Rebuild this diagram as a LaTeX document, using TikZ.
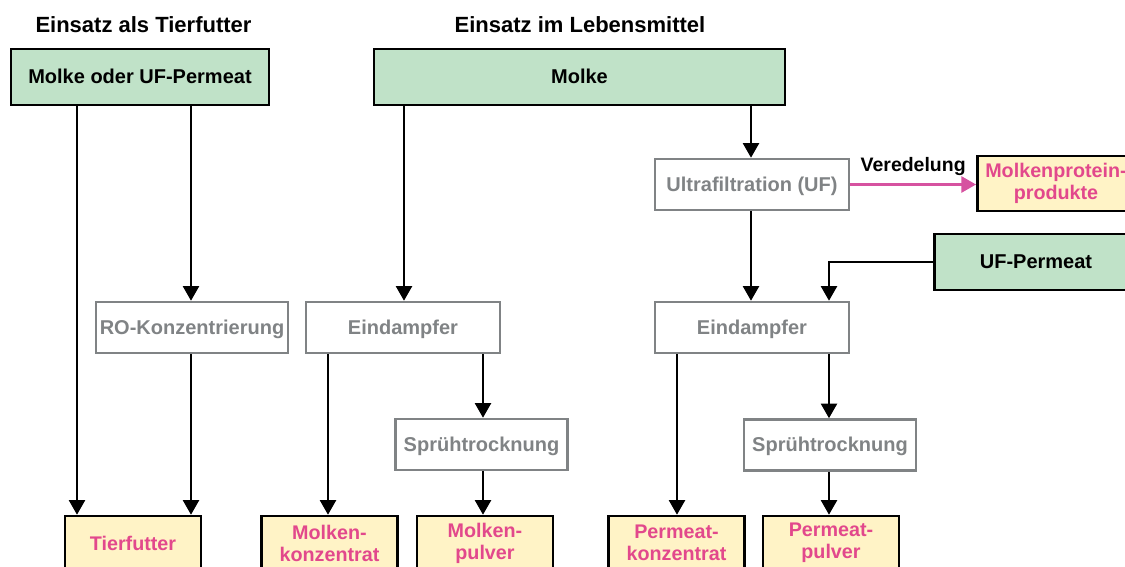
\documentclass[tikz,border=0pt]{standalone}
\usepackage{fontspec}
\setmainfont{Liberation Sans}
\usepackage{tikz}
\usetikzlibrary{arrows.meta}
\usetikzlibrary{calc}

\definecolor{boxgreen}{RGB}{192,226,200}
\definecolor{boxyellow}{RGB}{255,243,198}
\definecolor{txtpink}{RGB}{226,72,140}
\definecolor{arrpink}{RGB}{214,82,160}
\definecolor{stepgray}{RGB}{128,131,133}

\tikzset{
  basebox/.style={draw, rectangle, line width=1.9pt, align=center, inner sep=0pt,
    font=\bfseries\fontsize{15}{17}\selectfont},
  src/.style={basebox, draw=black, fill=boxgreen, text height=13.4pt, text depth=3pt},
  proc/.style={basebox, draw=stepgray, text=stepgray, fill=white, minimum height=38.25pt,
    text height=13pt, text depth=3pt},
  prod/.style={basebox, draw=black, fill=boxyellow, text=txtpink, minimum width=102pt, minimum height=40.5pt,
    font=\bfseries\fontsize{14.8}{16.5}\selectfont},
  arr/.style={line width=1.9pt, -{Triangle[width=12pt,length=11pt]}},
  head/.style={anchor=base, font=\bfseries\fontsize{16.5}{20}\selectfont}
}

\begin{document}
\begin{tikzpicture}[x=0.75pt,y=0.75pt,yscale=-1,xscale=1]
  \useasboundingbox (0,0) rectangle (1125,567); %page is 1125 x 567

  % Text Node
  \node[head] (htier) at (143.5,33) {Einsatz als Tierfutter};
  % Text Node
  \node[head] (hlebm) at (580,33) {Einsatz im Lebensmittel};

  % Source boxes
  \node[src, minimum width=193.5pt, minimum height=42pt] (mup) at (140,77) {Molke oder UF-Permeat};
  \node[src, minimum width=308.25pt, minimum height=42pt] (molke) at (579.5,77) {Molke};
  \node[src, minimum width=152pt, minimum height=42pt] (ufp) at (1036,262) {UF-Permeat};

  % Process boxes
  \node[proc, minimum width=145.5pt] (uf) at (752,184.5) {Ultrafiltration (UF)};
  \node[proc, minimum width=144pt] (ro) at (192,327.5) {RO-Konzentrierung};
  \node[proc, minimum width=145.5pt] (eda) at (403,327.5) {Eindampfer};
  \node[proc, minimum width=145.5pt] (edb) at (752,327.5) {Eindampfer};
  \node[proc, minimum width=129pt] (spa) at (481.5,444.5) {Sprühtrocknung};
  \node[proc, minimum width=129pt] (spb) at (830,445) {Sprühtrocknung};

  % Product boxes
  \node[prod, minimum width=118pt, minimum height=41.25pt] (prot) at (1056,183.5) {Molkenprotein-\\produkte};
  \node[prod] (tf) at (133,543) {Tierfutter};
  \node[prod] (mk) at (329.5,543) {Molken-\\konzentrat};
  \node[prod] (mp) at (485,543) {Molken-\\pulver};
  \node[prod] (pk) at (676.5,543) {Permeat-\\konzentrat};
  \node[prod] (pp) at (831,543) {Permeat-\\pulver};

  %Straight Lines
  \draw[arr] (mup.south -| 77,0) -- (tf.north -| 77,0);
  \draw[arr] (mup.south -| 191,0) -- (ro.north -| 191,0);
  \draw[arr] (ro.south -| 191,0) -- (tf.north -| 191,0);
  \draw[arr] (molke.south -| 404,0) -- (eda.north -| 404,0);
  \draw[arr] (molke.south -| 751,0) -- (uf.north -| 751,0);
  \draw[arr] (uf.south -| 751,0) -- (edb.north -| 751,0);
  \draw[arr] (ufp.west) -| (edb.north -| 829,0);
  \draw[arr] (eda.south -| 328,0) -- (mk.north -| 328,0);
  \draw[arr] (eda.south -| 483,0) -- (spa.north -| 483,0);
  \draw[arr] (spa.south -| 483,0) -- (mp.north -| 483,0);
  \draw[arr] (edb.south -| 677,0) -- (pk.north -| 677,0);
  \draw[arr] (edb.south -| 829,0) -- (spb.north -| 829,0);
  \draw[arr] (spb.south -| 829,0) -- (pp.north -| 829,0);
  %Veredelung
  \draw[arr, color=arrpink] (uf.east) -- (uf.east -| prot.west)
    node[midway, above=6pt, anchor=south, inner sep=0pt, text=black, font=\bfseries\fontsize{14.6}{17}\selectfont] (ver) {Veredelung};
\end{tikzpicture}
\end{document}
